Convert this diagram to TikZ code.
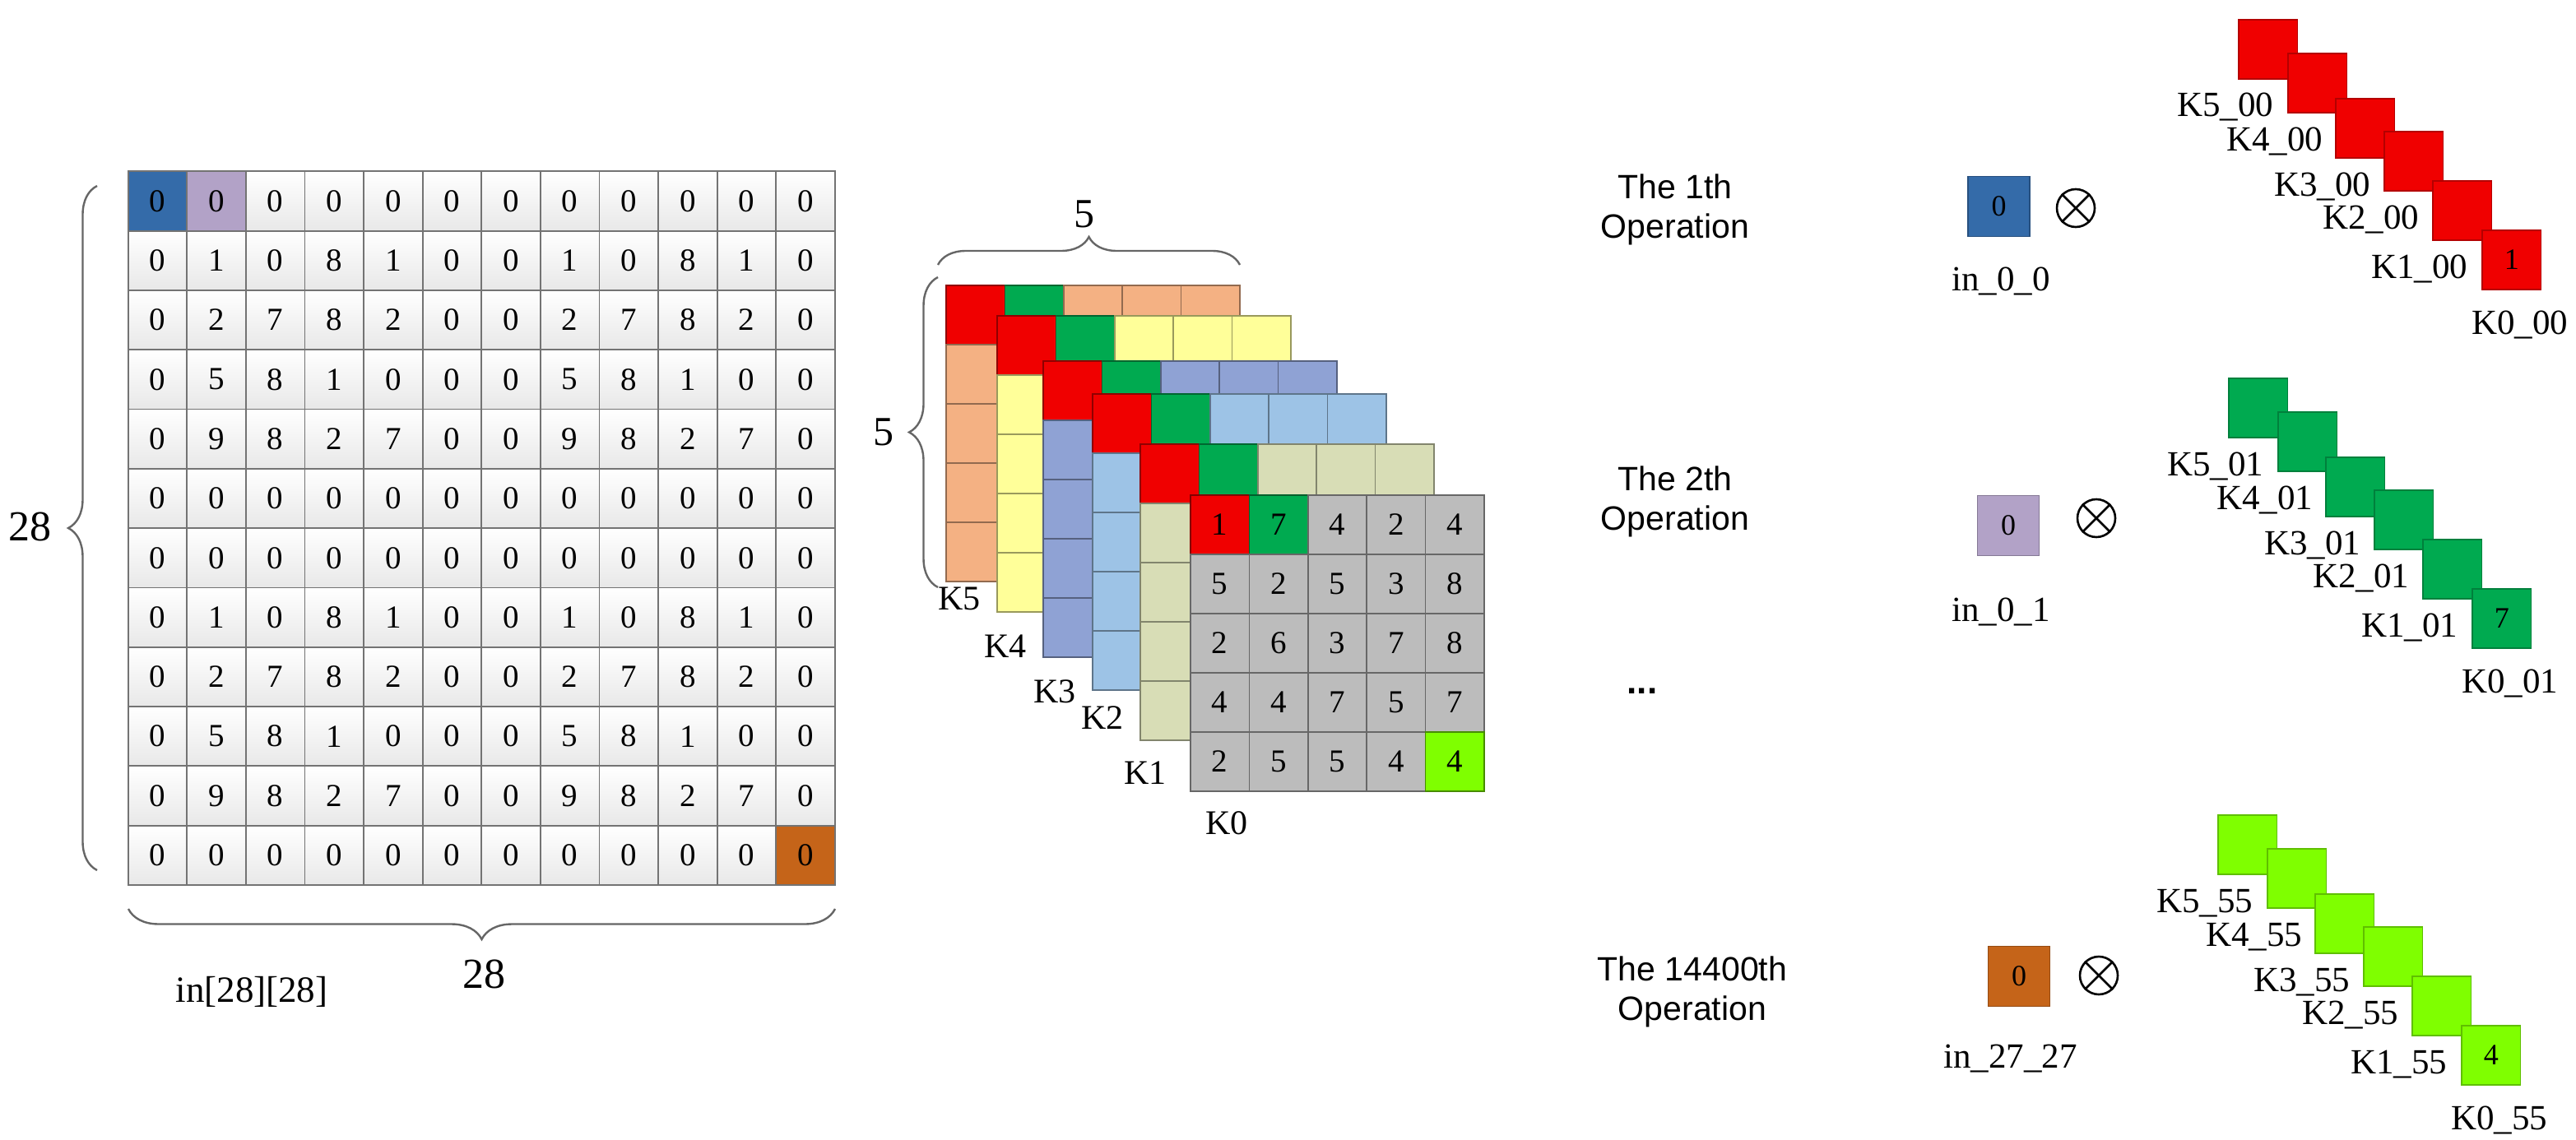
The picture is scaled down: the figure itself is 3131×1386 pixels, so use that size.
\documentclass[tikz,border=0pt]{standalone}
\usepackage{fontspec}
\setmainfont{Liberation Serif}
\newfontfamily\arialf{Liberation Sans}
\usetikzlibrary{decorations.pathreplacing}
\definecolor{cblue}{RGB}{52,107,169}
\definecolor{cpurple}{RGB}{178,162,199}
\definecolor{corange}{RGB}{197,100,25}
\definecolor{cred}{RGB}{240,0,0}
\definecolor{cgreen}{RGB}{0,170,80}
\definecolor{clgreen}{RGB}{127,255,0}
\definecolor{ck5}{RGB}{244,177,131}
\definecolor{ck4}{RGB}{255,255,153}
\definecolor{ck3}{RGB}{143,162,212}
\definecolor{ck2}{RGB}{157,195,230}
\definecolor{ck1}{RGB}{216,221,182}
\definecolor{ck0}{RGB}{188,188,188}
\newcommand\stairdraw[6]{% #1 name, #2 x, #3 y, #4 colour, #5 suffix, #6 value
  \foreach \k/\dx/\dy in {5/0/0,4/60/41,3/118/96,2/177/136,1/236/196}{
    \node[scell, fill=#4, draw=#4!75!black] (S#1-\k) at ({#2+\dx+35.75},{#3+\dy+36}) {};
    \node[slabel] (SL#1-\k) at ({#2+\dx+35.75-52},{#3+\dy+36+82}) {K\k\_#5};
  }
  \node[scell, fill=#4, draw=#4!75!black] (S#1-0) at ({#2+296+35.75},{#3+256+36}) {#6};
  \node[slabel] (SL#1-0) at ({#2+296+35.75+10},{#3+256+36+90}) {K0\_#5};
}
\begin{document}
\begin{tikzpicture}[x=1pt,y=-1pt,
  gcell/.style={draw=black!55, line width=1.8pt, minimum width=71.6pt, minimum height=72.3pt, inner sep=0pt, font=\fontsize{39}{42}\selectfont},
  gshade/.style={top color=white, bottom color=black!9},
  gblue/.style={fill=cblue},
  gpurple/.style={fill=cpurple},
  gorange/.style={fill=corange},
  kcell/.style={minimum width=71.4pt, minimum height=72pt, inner sep=0pt, line width=1.5pt, font=\fontsize{39}{42}\selectfont},
  scell/.style={minimum width=71.5pt, minimum height=72pt, inner sep=0pt, line width=1.2pt, font=\fontsize{36}{40}\selectfont},
  slabel/.style={anchor=base, inner sep=0pt, font=\fontsize{43}{48}\selectfont},
  klabel/.style={inner sep=0pt, font=\fontsize{42}{48}\selectfont},
  ilabel/.style={anchor=base, inner sep=0pt, font=\fontsize{43}{48}\selectfont},
  ibox/.style={minimum width=75pt, minimum height=73pt, inner sep=0pt, line width=1.2pt, font=\fontsize{36}{40}\selectfont},
  bignum/.style={inner sep=0pt, font=\fontsize{52}{56}\selectfont},
  optext/.style={align=center, inner sep=0pt, font=\arialf\fontsize{41}{48}\selectfont},
  dotstext/.style={inner sep=0pt, font=\arialf\bfseries\fontsize{44}{48}\selectfont},
  otimes/.style={circle, draw, line width=2.6pt, minimum size=46pt, inner sep=0pt},
  otimesline/.style={line width=2.6pt},
  bracestyle/.style={draw=black!60, line width=2.4pt, decorate, decoration={brace, amplitude=#1}},
]
\useasboundingbox (0,0) rectangle (3131,1386);

% ---------- input matrix ----------
\foreach \row [count=\r from 0] in {{0,0,0,0,0,0,0,0,0,0,0,0},{0,1,0,8,1,0,0,1,0,8,1,0},{0,2,7,8,2,0,0,2,7,8,2,0},{0,5,8,1,0,0,0,5,8,1,0,0},{0,9,8,2,7,0,0,9,8,2,7,0},{0,0,0,0,0,0,0,0,0,0,0,0},{0,0,0,0,0,0,0,0,0,0,0,0},{0,1,0,8,1,0,0,1,0,8,1,0},{0,2,7,8,2,0,0,2,7,8,2,0},{0,5,8,1,0,0,0,5,8,1,0,0},{0,9,8,2,7,0,0,9,8,2,7,0},{0,0,0,0,0,0,0,0,0,0,0,0}}{
  \foreach \v [count=\c from 0] in \row {
    \def\st{gshade}
    \ifnum\r=0 \ifnum\c=0 \def\st{gblue}\fi \ifnum\c=1 \def\st{gpurple}\fi \fi
    \ifnum\r=11 \ifnum\c=11 \def\st{gorange}\fi \fi
    \node[gcell,\st] (g-\r-\c) at ({155.7+71.6*(\c+0.5)},{208.3+72.3*(\r+0.5)}) {\v};
  }
}
\coordinate (lbA) at (118,1058);
\coordinate (lbB) at (118,226);
\draw[bracestyle=35pt] (lbA) -- (lbB);
\node[bignum] (n28a) at (36.5,640) {28};
\coordinate (bbA) at (1015,1105);
\coordinate (bbB) at (156,1105);
\draw[bracestyle=37pt] (bbA) -- (bbB);
\node[bignum] (n28b) at (588,1184) {28};
\node[inner sep=0pt, anchor=base, font=\fontsize{45}{50}\selectfont] (inname) at (306,1218) {in[28][28]};

% ---------- kernel stack ----------
\foreach \k/\lx/\ly/\col in {5/1150/347/ck5,4/1212/384/ck4,3/1268/439/ck3,2/1328/479/ck2,1/1386/540/ck1}{
  \foreach \r in {0,...,4}{
    \foreach \c in {0,...,4}{
      \edef\kf{\col}
      \ifnum\r=0 \ifnum\c=0 \def\kf{cred}\fi \ifnum\c=1 \def\kf{cgreen}\fi \fi
      \node[kcell, fill=\kf, draw=\kf!60!black] (L\k-\r-\c) at ({\lx+71.4*(\c+0.5)},{\ly+72*(\r+0.5)}) {};
    }
  }
}
\foreach \row [count=\r from 0] in {{1,7,4,2,4},{5,2,5,3,8},{2,6,3,7,8},{4,4,7,5,7},{2,5,5,4,4}}{
  \foreach \v [count=\c from 0] in \row {
    \def\kf{ck0}
    \ifnum\r=0 \ifnum\c=0 \def\kf{cred}\fi \ifnum\c=1 \def\kf{cgreen}\fi \fi
    \ifnum\r=4 \ifnum\c=4 \def\kf{clgreen}\fi \fi
    \node[kcell, fill=\kf, draw=\kf!55!black] (L0-\r-\c) at ({1447+71.4*(\c+0.5)},{602+72*(\r+0.5)}) {\v};
  }
}
\node[klabel] (kl5) at (1166,728) {K5};
\node[klabel] (kl4) at (1222,786) {K4};
\node[klabel] (kl3) at (1282,841) {K3};
\node[klabel] (kl2) at (1340,873) {K2};
\node[klabel] (kl1) at (1392,940) {K1};
\node[klabel] (kl0) at (1491,1001) {K0};
\coordinate (tbA) at (1140,322);
\coordinate (tbB) at (1507,322);
\draw[bracestyle=34pt] (tbA) -- (tbB);
\node[bignum, font=\fontsize{50}{54}\selectfont] (n5a) at (1318,260) {5};
\coordinate (kbA) at (1140,714);
\coordinate (kbB) at (1140,337);
\draw[bracestyle=35pt] (kbA) -- (kbB);
\node[bignum, font=\fontsize{50}{54}\selectfont] (n5b) at (1074,525) {5};

% ---------- operations ----------
\node[optext] (op1) at (2036,255) {The 1th\\Operation};
\node[optext] (op2) at (2036,610) {The 2th\\Operation};
\node[dotstext] (dots) at (1996,840) {...};
\node[optext] (op3) at (2057,1206) {The 14400th\\Operation};

\node[ibox, fill=cblue, draw=cblue!75!black] (in1) at (2429.5,250.7) {0};
\node[ibox, fill=cpurple, draw=cpurple!75!black] (in2) at (2441,639) {0};
\node[ibox, fill=corange, draw=corange!75!black] (in3) at (2454,1186.7) {0};
\node[ilabel] (inl1) at (2432,353) {in\_0\_0};
\node[ilabel] (inl2) at (2432,755) {in\_0\_1};
\node[ilabel] (inl3) at (2443.5,1298) {in\_27\_27};

\foreach \n/\ox/\oy in {x1/2523/253,x2/2548/630,x3/2551/1186}{
  \node[otimes] (\n) at (\ox,\oy) {};
  \draw[otimesline] (\n.north east) -- (\n.south west);
  \draw[otimesline] (\n.north west) -- (\n.south east);
}

\stairdraw{r}{2721}{24}{cred}{00}{1}
\stairdraw{g}{2709}{460}{cgreen}{01}{7}
\stairdraw{l}{2696}{991}{clgreen}{55}{4}
\end{tikzpicture}
\end{document}
